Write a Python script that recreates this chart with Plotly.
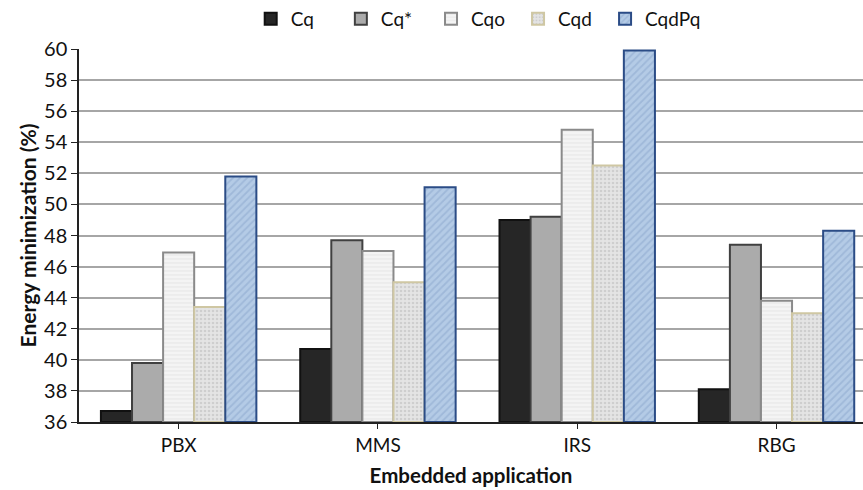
import plotly.graph_objects as go

applications = ["PBX", "MMS", "IRS", "RBG"]
series_names = ["Cq", "Cq*", "Cqo", "Cqd", "CqdPq"]
cq = [36.7, 40.7, 49.0, 38.1]
cq_star = [39.8, 47.7, 49.2, 47.4]
cqo = [46.9, 47.0, 54.8, 43.8]
cqd = [43.4, 45.0, 52.5, 43.0]
cqdpq = [51.8, 51.1, 59.9, 48.3]
y_ticks = list(range(36, 61, 2))

styles = [
    dict(color="#262626", line=dict(color="#111111", width=2)),
    dict(color="#ababab", line=dict(color="#404040", width=2)),
    dict(color="#f4f4f4", line=dict(color="#8a8a8a", width=2),
         pattern=dict(shape="-", fgcolor="#dcdcdc", size=4, solidity=0.3)),
    dict(color="#e4e4e4", line=dict(color="#cfc7a3", width=2),
         pattern=dict(shape=".", fgcolor="#b8b8b8", size=4, solidity=0.35)),
    dict(color="#b4cbe6", line=dict(color="#2b4c86", width=2),
         pattern=dict(shape="/", fgcolor="#8aa6cc", size=5, solidity=0.35)),
]

# one legend box per series so the entries sit evenly spaced across the top
legend_x = [0.219, 0.334, 0.449, 0.560, 0.671]

fig = go.Figure()
legend_layout = {}
for i, (name, vals, st) in enumerate(zip(series_names, [cq, cq_star, cqo, cqd, cqdpq], styles)):
    key = "legend" if i == 0 else f"legend{i + 1}"
    fig.add_trace(go.Bar(
        name=name, x=applications, y=[v - 36 for v in vals], base=36,
        marker=st, hoverinfo="skip", legend=key,
    ))
    legend_layout[key] = dict(
        orientation="h", x=legend_x[i], xanchor="left", y=1.08, yanchor="middle",
        font=dict(size=19), itemwidth=30, bgcolor="rgba(0,0,0,0)",
    )

fig.update_layout(
    width=863, height=490,
    margin=dict(l=79, r=0, t=48, b=68),
    barmode="group", bargap=0.22, bargroupgap=0,
    plot_bgcolor="white", paper_bgcolor="white",
    font=dict(family="Lato, 'Open Sans', sans-serif", size=18, color="#111111"),
    showlegend=True,
    **legend_layout,
)
fig.update_xaxes(
    range=[-0.5, 3.434], showline=True, linecolor="#222222", linewidth=1.5,
    ticks="outside", ticklen=5, tickcolor="#222222",
    title=dict(text="<b>Embedded application</b>", font=dict(size=20.5), standoff=14),
    tickfont=dict(size=19),
)
fig.update_yaxes(
    range=[36, 60], tickvals=y_ticks, showline=True, linecolor="#222222", linewidth=1.5,
    ticks="outside", ticklen=6, tickcolor="#222222",
    showgrid=True, gridcolor="#a6a6a6", gridwidth=2,
    title=dict(text="<b>Energy minimization (%)</b>", font=dict(size=21), standoff=2),
    tickfont=dict(size=20),
)

fig.write_html("out.html")
